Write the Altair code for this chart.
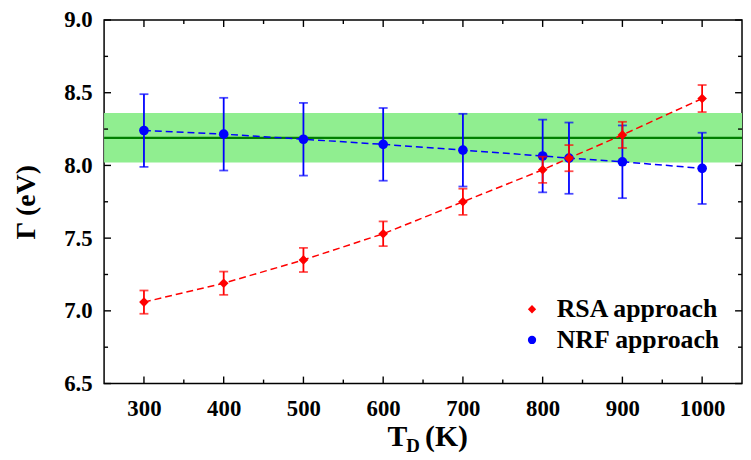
import altair as alt
import pandas as pd

# ---- data ----
temps = [300, 400, 500, 600, 700, 800, 833, 900, 1000]
rsa_val = [7.06, 7.19, 7.35, 7.53, 7.75, 7.97, 8.05, 8.21, 8.46]
rsa_err = [0.08, 0.08, 0.083, 0.085, 0.09, 0.09, 0.09, 0.09, 0.093]
nrf_val = [8.24, 8.215, 8.18, 8.145, 8.105, 8.065, 8.05, 8.025, 7.98]
nrf_err = [0.25, 0.25, 0.25, 0.25, 0.25, 0.25, 0.245, 0.25, 0.245]
band_center = [8.19]
band_lo = [8.02]
band_hi = [8.36]
series_names = ["RSA approach", "NRF approach"]
x_major = [300, 400, 500, 600, 700, 800, 900, 1000]
x_minor = [350, 450, 550, 650, 750, 850, 950]
y_major = [6.5, 7.0, 7.5, 8.0, 8.5, 9.0]
y_minor = [6.75, 7.25, 7.75, 8.25, 8.75]

W, H = 644, 367
FONT = "Liberation Serif"
RED, BLUE = "#ff0000", "#0000ff"

xs = alt.Scale(domain=[250, 1050], nice=False, zero=False)
ys = alt.Scale(domain=[6.5, 9.0], nice=False, zero=False)

x_axis = alt.Axis(values=x_major, format="d", labelFont=FONT, labelFontSize=23,
                  labelFontWeight="bold", labelColor="black", ticks=False, domain=False,
                  grid=False, labelPadding=14, title=None)
y_axis = alt.Axis(values=y_major, format=".1f", labelFont=FONT, labelFontSize=23,
                  labelFontWeight="bold", labelColor="black", ticks=False, domain=False,
                  grid=False, labelPadding=12, title="Γ (eV)", titleFont=FONT,
                  titleFontSize=28, titleFontWeight="bold", titleColor="black",
                  titleX=-78, titleY=H / 2, titleAlign="center", titleBaseline="middle",
                  titleAngle=-90)


def X(f):
    return alt.X(f"{f}:Q", scale=xs, axis=x_axis)


def Y(f):
    return alt.Y(f"{f}:Q", scale=ys, axis=y_axis)


def series_df(name, vals, errs):
    return pd.DataFrame({
        "t": temps,
        "v": vals,
        "lo": [v - e for v, e in zip(vals, errs)],
        "hi": [v + e for v, e in zip(vals, errs)],
        "series": name,
    })


rsa = series_df(series_names[0], rsa_val, rsa_err)
nrf = series_df(series_names[1], nrf_val, nrf_err)

band = alt.Chart(pd.DataFrame({"lo": band_lo, "hi": band_hi})).mark_rect(
    color="#90ee90").encode(
    y=Y("lo"), y2="hi", x=alt.value(0), x2=alt.value(W))

cline = alt.Chart(pd.DataFrame({"c": band_center})).mark_rule(
    color="#008000", strokeWidth=2.2).encode(y=Y("c"), x=alt.value(0), x2=alt.value(W))

color_scale = alt.Scale(domain=series_names, range=[RED, BLUE])
shape_scale = alt.Scale(domain=series_names, range=["diamond", "circle"])
legend = alt.Legend(orient="none", legendX=419, legendY=279, title=None,
                    labelFont=FONT, labelFontSize=26, labelFontWeight="bold",
                    labelColor="black", labelLimit=400, symbolSize=70, symbolStrokeWidth=0,
                    labelOffset=12, rowPadding=5, padding=0)


def series_layers(df, col):
    base = alt.Chart(df)
    line = base.mark_line(color=col, strokeDash=[7, 4], strokeWidth=1.5).encode(
        x=X("t"), y=Y("v"))
    bar = base.mark_rule(color=col, strokeWidth=1.8).encode(x=X("t"), y=Y("lo"), y2="hi")
    cap_lo = base.mark_tick(color=col, orient="horizontal", size=9, thickness=1.8).encode(
        x=X("t"), y=Y("lo"))
    cap_hi = base.mark_tick(color=col, orient="horizontal", size=9, thickness=1.8).encode(
        x=X("t"), y=Y("hi"))
    pts = base.mark_point(filled=True, size=95, opacity=1).encode(
        x=X("t"), y=Y("v"),
        color=alt.Color("series:N", scale=color_scale, legend=legend),
        shape=alt.Shape("series:N", scale=shape_scale, legend=legend))
    return [line, bar, cap_lo, cap_hi, pts]


# inward ticks on all four sides
def xticks(vals, ln):
    d = alt.Chart(pd.DataFrame({"v": vals}))
    return [
        d.mark_rule(color="black", strokeWidth=1.4).encode(x=X("v"), y=alt.value(H), y2=alt.value(H - ln)),
        d.mark_rule(color="black", strokeWidth=1.4).encode(x=X("v"), y=alt.value(0), y2=alt.value(ln)),
    ]


def yticks(vals, ln):
    d = alt.Chart(pd.DataFrame({"v": vals}))
    return [
        d.mark_rule(color="black", strokeWidth=1.4).encode(y=Y("v"), x=alt.value(0), x2=alt.value(ln)),
        d.mark_rule(color="black", strokeWidth=1.4).encode(y=Y("v"), x=alt.value(W), x2=alt.value(W - ln)),
    ]


ticks = xticks(x_major, 7) + xticks(x_minor, 4) + yticks(y_major, 7) + yticks(y_minor, 4)

# x-axis title with subscript
tx = 286
title_T = alt.Chart(pd.DataFrame({"s": ["T"]})).mark_text(
    font=FONT, fontSize=30, fontWeight="bold", align="left", baseline="alphabetic",
    color="black").encode(text="s:N", x=alt.value(tx), y=alt.value(H + 63))
title_D = alt.Chart(pd.DataFrame({"s": ["D"]})).mark_text(
    font=FONT, fontSize=19, fontWeight="bold", align="left", baseline="alphabetic",
    color="black").encode(text="s:N", x=alt.value(tx + 19), y=alt.value(H + 69))
title_K = alt.Chart(pd.DataFrame({"s": ["(K)"]})).mark_text(
    font=FONT, fontSize=30, fontWeight="bold", align="left", baseline="alphabetic",
    color="black").encode(text="s:N", x=alt.value(tx + 38), y=alt.value(H + 63))

layers = ([band, cline] + series_layers(nrf, BLUE) + series_layers(rsa, RED)
          + ticks + [title_T, title_D, title_K])

chart = alt.layer(*layers).resolve_scale(color="shared", shape="shared").properties(
    width=W, height=H,
    background="white",
    autosize=alt.AutoSizeParams(type="none"),
    padding={"left": 97, "top": 10, "right": 1, "bottom": 70},
).configure_view(stroke="black", strokeWidth=1.5).configure_legend(
    labelFont=FONT, labelFontSize=26, labelFontWeight="bold", labelColor="black",
    labelLimit=400)

chart.save("out.html", embed_options={"renderer": "svg", "actions": False})
